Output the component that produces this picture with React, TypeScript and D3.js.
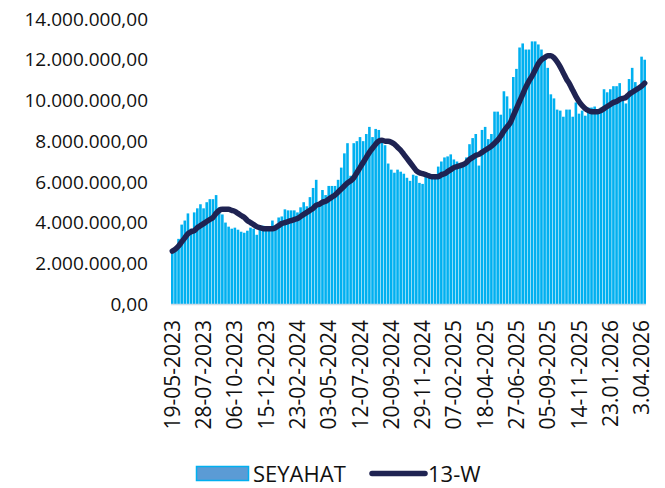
import React, { useRef, useEffect } from 'react';
import * as d3 from 'd3';

// weekly values, in millions
const seyahatMn = [
  2.65, 2.8, 3.2, 3.9, 4.1, 4.45, 3.7, 4.5, 4.7, 4.9,
  4.7, 5.0, 5.15, 5.15, 5.35, 4.75, 4.4, 4.0, 3.8, 3.7,
  3.75, 3.65, 3.55, 3.5, 3.6, 3.75, 3.7, 3.4, 3.8, 3.85,
  3.7, 3.7, 4.1, 3.75, 4.25, 4.3, 4.65, 4.6, 4.6, 4.6,
  4.5, 4.75, 5.0, 4.8, 5.25, 5.7, 6.1, 4.9, 5.6, 5.35,
  5.8, 5.8, 5.8, 6.1, 6.7, 7.4, 7.9, 6.3, 7.9, 8.0,
  8.2, 8.0, 8.35, 8.7, 8.2, 8.6, 8.55, 8.1, 7.8, 6.9,
  6.6, 6.45, 6.6, 6.5, 6.4, 6.2, 6.05, 6.35, 6.3, 5.95,
  5.9, 6.4, 6.4, 6.2, 6.3, 6.75, 7.0, 7.2, 7.25, 7.35,
  7.1, 7.0, 6.9, 6.9, 7.2, 7.85, 8.15, 8.35, 6.8, 8.55,
  8.7, 8.1, 8.35, 9.45, 9.45, 9.3, 10.45, 10.2, 9.6, 11.15,
  11.55, 12.6, 12.8, 12.5, 12.5, 12.9, 12.9, 12.75, 12.5, 12.0,
  11.6, 10.3, 10.1, 9.55, 9.5, 9.2, 9.55, 9.55, 9.2, 9.9,
  9.35, 9.5, 9.25, 9.65, 9.65, 9.7, 9.5, 9.65, 10.55, 10.4,
  10.55, 10.7, 10.7, 10.85, 10.05, 9.85, 11.05, 11.6, 10.9, 10.65,
  12.15, 12.0
];

const w13Mn = [
  2.6, 2.7, 2.85, 3.05, 3.25, 3.45, 3.55, 3.6, 3.75, 3.85,
  3.95, 4.05, 4.15, 4.25, 4.45, 4.6, 4.65, 4.65, 4.65, 4.6,
  4.55, 4.45, 4.35, 4.25, 4.1, 4.0, 3.9, 3.8, 3.75, 3.7,
  3.7, 3.7, 3.7, 3.75, 3.85, 3.95, 4.0, 4.05, 4.1, 4.15,
  4.2, 4.3, 4.4, 4.5, 4.6, 4.7, 4.85, 4.9, 5.0, 5.05,
  5.15, 5.25, 5.35, 5.5, 5.65, 5.8, 5.95, 6.05, 6.2, 6.45,
  6.7, 6.95, 7.2, 7.45, 7.65, 7.85, 8.0, 8.05, 8.0, 8.0,
  7.95, 7.85, 7.7, 7.55, 7.35, 7.15, 6.95, 6.75, 6.55, 6.45,
  6.4, 6.35, 6.3, 6.25, 6.25, 6.25, 6.35, 6.4, 6.5, 6.6,
  6.7, 6.75, 6.8, 6.85, 6.95, 7.1, 7.2, 7.3, 7.35, 7.45,
  7.55, 7.65, 7.75, 7.9, 8.05, 8.25, 8.5, 8.7, 8.9, 9.25,
  9.6, 9.95, 10.3, 10.65, 10.95, 11.2, 11.5, 11.8, 12.0, 12.1,
  12.2, 12.2, 12.1, 11.9, 11.65, 11.35, 11.05, 10.8, 10.5, 10.2,
  9.95, 9.75, 9.6, 9.5, 9.45, 9.45, 9.45, 9.5, 9.6, 9.7,
  9.8, 9.9, 9.95, 10.05, 10.1, 10.15, 10.3, 10.4, 10.5, 10.6,
  10.7, 10.85
];

// one label every 10 weeks
const tickLabels = [
  '19-05-2023', '28-07-2023', '06-10-2023', '15-12-2023', '23-02-2024',
  '03-05-2024', '12-07-2024', '20-09-2024', '29-11-2024', '07-02-2025',
  '18-04-2025', '27-06-2025', '05-09-2025', '14-11-2025', '23.01.2026',
  '3.04.2026'
];

const yTicks = [0, 2, 4, 6, 8, 10, 12, 14];

const FONT = 'Open Sans, sans-serif';

export default function App() {
  const svgRef = useRef<SVGSVGElement>(null);

  useEffect(() => {
    const svg = d3.select(svgRef.current);
    svg.selectAll('*').remove();

    const weeks = d3.range(seyahatMn.length);

    const x = d3.scaleBand<number>()
      .domain(weeks)
      .range([171, 646])
      .paddingInner(0.17)
      .paddingOuter(0);

    const y = d3.scaleLinear()
      .domain([0, 14])
      .range([304, 19]);

    const trFormat = d3.formatLocale({
      decimal: ',', thousands: '.', grouping: [3], currency: ['', '']
    }).format(',.2f');

    // bars
    svg.append('g')
      .selectAll('rect')
      .data(seyahatMn)
      .join('rect')
      .attr('x', (d, i) => x(i)!)
      .attr('y', d => y(d))
      .attr('width', x.bandwidth())
      .attr('height', d => y(0) - y(d))
      .attr('fill', '#00b0f0');

    // baseline
    svg.append('line')
      .attr('x1', 171)
      .attr('x2', 646)
      .attr('y1', y(0) + 0.5)
      .attr('y2', y(0) + 0.5)
      .attr('stroke', '#d0dce6')
      .attr('stroke-width', 1.5);

    // 13 week line
    const line = d3.line<number>()
      .x((d, i) => x(i)! + x.bandwidth() / 2)
      .y(d => y(d))
      .curve(d3.curveMonotoneX);

    svg.append('path')
      .datum(w13Mn)
      .attr('fill', 'none')
      .attr('stroke', '#1f2352')
      .attr('stroke-width', 5.5)
      .attr('stroke-linecap', 'round')
      .attr('stroke-linejoin', 'round')
      .attr('d', line);

    // y labels
    svg.append('g')
      .selectAll('text')
      .data(yTicks)
      .join('text')
      .attr('x', 148)
      .attr('y', d => y(d))
      .attr('dy', '0.35em')
      .attr('text-anchor', 'end')
      .attr('font-family', FONT)
      .attr('font-size', 19)
      .attr('fill', '#111')
      .text(d => trFormat(d * 1e6));

    // x labels
    svg.append('g')
      .selectAll('text')
      .data(tickLabels)
      .join('text')
      .attr('transform', (d, k) => `translate(${x(k * 10)! + x.bandwidth() / 2},320) rotate(-90)`)
      .attr('dy', '0.36em')
      .attr('text-anchor', 'end')
      .attr('font-family', FONT)
      .attr('font-size', 21)
      .attr('fill', '#111')
      .text(d => d);

    // legend
    const legend = svg.append('g');
    legend.append('rect')
      .attr('x', 196.5)
      .attr('y', 466.5)
      .attr('width', 52)
      .attr('height', 14)
      .attr('fill', '#5b9bd5')
      .attr('stroke', '#00b0f0')
      .attr('stroke-width', 1.5);
    legend.append('text')
      .attr('x', 253)
      .attr('y', 482)
      .attr('font-family', FONT)
      .attr('font-size', 22)
      .attr('fill', '#111')
      .text('SEYAHAT');
    legend.append('line')
      .attr('x1', 372)
      .attr('x2', 425)
      .attr('y1', 473.5)
      .attr('y2', 473.5)
      .attr('stroke', '#1f2352')
      .attr('stroke-width', 5.5)
      .attr('stroke-linecap', 'round');
    legend.append('text')
      .attr('x', 428)
      .attr('y', 482)
      .attr('font-family', FONT)
      .attr('font-size', 22)
      .attr('fill', '#111')
      .text('13-W');
  }, []);

  return (
    <svg
      ref={svgRef}
      width={665}
      height={488}
      style={{ position: 'absolute', left: 0, top: 0, background: '#fff' }}
    />
  );
}
